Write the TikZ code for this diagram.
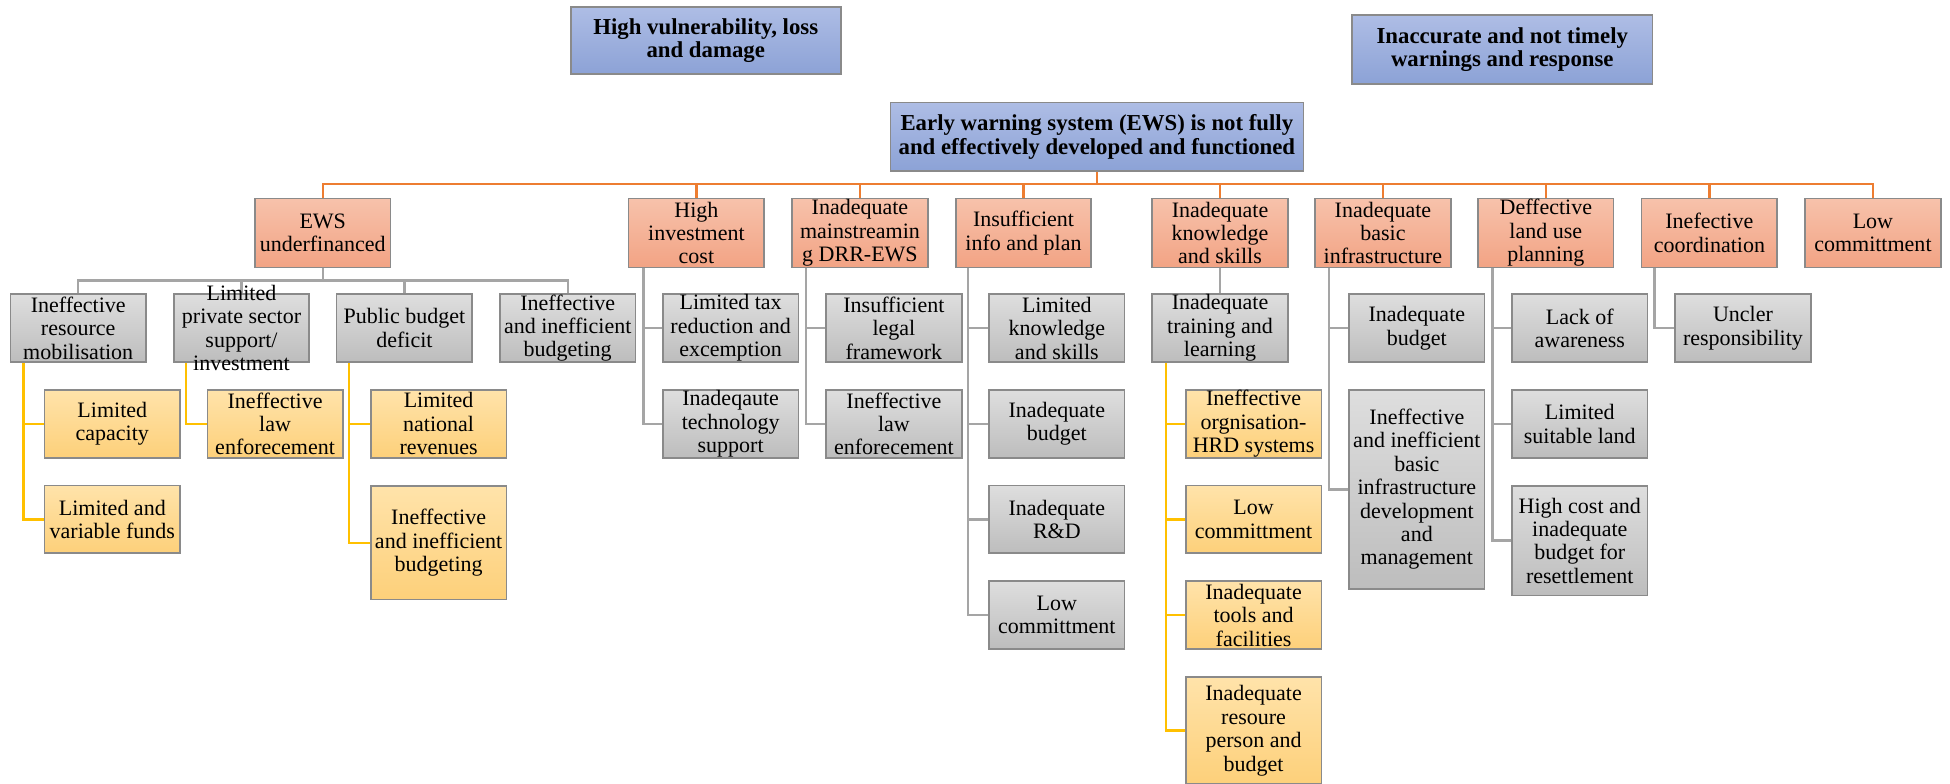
\documentclass[tikz,border=0pt]{standalone}
\usepackage{fontspec}
\setmainfont{Liberation Serif}
\usetikzlibrary{backgrounds}
\definecolor{blueT}{HTML}{AEBDE5}
\definecolor{blueB}{HTML}{8CA2D6}
\definecolor{orT}{HTML}{F7C2AB}
\definecolor{orB}{HTML}{F2A384}
\definecolor{grT}{HTML}{DEDEDE}
\definecolor{grB}{HTML}{BDBDBD}
\definecolor{yeT}{HTML}{FFE3AA}
\definecolor{yeB}{HTML}{FDD07A}
\definecolor{boxedge}{HTML}{8A8A8A}
\definecolor{lineO}{HTML}{ED7D31}
\definecolor{lineG}{HTML}{A5A5A5}
\definecolor{lineY}{HTML}{FFC000}
\tikzset{
  bw/.style={minimum width=#1*0.6218pt},
  bh/.style={minimum height=#1*0.6218pt},
  txt/.style={inner sep=0pt, align=center, font=\fontsize{11}{11.7}\selectfont},
  box/.style={txt, draw=boxedge, line width=0.8pt, bw=109, bh=54.5},
  bluebox/.style={box, top color=blueT, bottom color=blueB, font=\fontsize{11.4}{11.7}\selectfont\bfseries},
  obox/.style={box, top color=orT, bottom color=orB, bh=55.5},
  gbox/.style={box, top color=grT, bottom color=grB},
  ybox/.style={box, top color=yeT, bottom color=yeB},
  oline/.style={draw=lineO, line width=1.2pt},
  gline/.style={draw=lineG, line width=1.2pt},
  yline/.style={draw=lineY, line width=1.2pt}
}
\begin{document}
\begin{tikzpicture}[x=0.6218pt, y=-0.6218pt]
\useasboundingbox (0,0) rectangle (1568,630);

% top level problem statements
\node[bluebox, bw=217, bh=54]     (hv)  at (567.5,32.5) {High vulnerability, loss\\and damage};
\node[bluebox, bw=241.5, bh=55.5] (ia)  at (1208,39.8) {Inaccurate and not timely\\warnings and response};
\node[bluebox, bw=332, bh=55]     (ews) at (882,110) {Early warning system (EWS) is not fully\\and effectively developed and functioned};

% first level causes
\node[obox] (eu)  at (259.5,187.3) {EWS\\underfinanced};
\node[obox] (hic) at (560,187.3)   {High\\investment\\cost};
\node[obox] (idm) at (691.5,187.3) {Inadequate\\mainstreamin\\g DRR-EWS};
\node[obox] (iip) at (823,187.3)   {Insufficient\\info and plan};
\node[obox] (iks) at (981,187.3)   {Inadequate\\knowledge\\and skills};
\node[obox] (ibi) at (1112,187.3)  {Inadequate\\basic\\infrastructure};
\node[obox] (dlp) at (1243,187.3)  {Deffective\\land use\\planning};
\node[obox] (ico) at (1374.5,187.3) {Inefective\\coordination};
\node[obox] (lco) at (1506,187.3)  {Low\\committment};

% financing branch
\node[gbox] (irm) at (62.9,263.8)  {Ineffective\\resource\\mobilisation};
\node[gbox] (lps) at (194.2,263.8) {};
\node[txt]  (lpst) at (lps.center) {Limited\\private sector\\support/\\investment};
\node[gbox] (pbd) at (325.2,263.8) {Public budget\\deficit};
\node[gbox] (iib) at (456.5,263.8) {Ineffective\\and inefficient\\budgeting};
\node[ybox] (lcap) at (90.3,340.8) {Limited\\capacity};
\node[ybox] (lvf)  at (90.3,417.6) {Limited and\\variable funds};
\node[ybox] (ile)  at (221.2,340.8) {Ineffective\\law\\enforecement};
\node[ybox] (lnr)  at (352.7,340.8) {Limited\\national\\revenues};
\node[ybox, bh=91] (iib2) at (352.7,436.5) {Ineffective\\and inefficient\\budgeting};

% investment and mainstreaming branches
\node[gbox] (ltr)  at (587.5,263.8) {Limited tax\\reduction and\\excemption};
\node[gbox] (its)  at (587.5,340.8) {Inadeqaute\\technology\\support};
\node[gbox] (ilf)  at (718.8,263.8) {Insufficient\\legal\\framework};
\node[gbox] (ile2) at (718.8,340.8) {Ineffective\\law\\enforecement};

% information branch
\node[gbox] (lks) at (849.8,263.8) {Limited\\knowledge\\and skills};
\node[gbox] (ib)  at (849.8,340.8) {Inadequate\\budget};
\node[gbox] (ird) at (849.8,417.6) {Inadequate\\R\&D};
\node[gbox] (lc)  at (849.8,494.6) {Low\\committment};

% knowledge branch
\node[gbox] (itl) at (981,263.8)   {Inadequate\\training and\\learning};
\node[ybox] (ioh) at (1008,340.8)  {Ineffective\\orgnisation-\\HRD systems};
\node[ybox] (lc2) at (1008,417.6)  {Low\\committment};
\node[ybox] (itf) at (1008,494.6)  {Inadequate\\tools and\\facilities};
\node[ybox, bh=86] (irp) at (1008,587.5) {Inadequate\\resoure\\person and\\budget};

% infrastructure branch
\node[gbox] (ib2) at (1139.3,263.8) {Inadequate\\budget};
\node[gbox, bh=160] (iibi) at (1139.3,393.5) {Ineffective\\and inefficient\\basic\\infrastructure\\development\\and\\management};

% land use branch
\node[gbox] (loa) at (1270.3,263.8) {Lack of\\awareness};
\node[gbox] (lsl) at (1270.3,340.8) {Limited\\suitable land};
\node[gbox, bh=88] (hcb) at (1270.3,434.7) {High cost and\\inadequate\\budget for\\resettlement};

% coordination branch
\node[gbox] (ure) at (1401.5,263.8) {Uncler\\responsibility};

% connectors
\begin{scope}[on background layer]
  \foreach \n in {eu,hic,idm,iip,iks,ibi,dlp,ico,lco}
    \draw[oline] (ews.south) -- ++(0,10) -| (\n.north);
  \foreach \n in {irm,lps,pbd,iib}
    \draw[gline] (eu.south) -- ++(0,10) -| (\n.north);
  \foreach \n in {lcap,lvf}
    \draw[yline] (irm.south west) ++(11,0) |- (\n.west);
  \draw[yline] (lps.south west) ++(10.7,0) |- (ile.west);
  \foreach \n in {lnr,iib2}
    \draw[yline] (pbd.south west) ++(10.7,0) |- (\n.west);
  \foreach \n in {ltr,its}
    \draw[gline] (hic.south west) ++(12.5,0) |- (\n.west);
  \foreach \n in {ilf,ile2}
    \draw[gline] (idm.south west) ++(11.5,0) |- (\n.west);
  \foreach \n in {lks,ib,ird,lc}
    \draw[gline] (iip.south west) ++(10.4,0) |- (\n.west);
  \draw[gline] (iks) -- (itl);
  \foreach \n in {ioh,lc2,itf,irp}
    \draw[yline] (itl.south west) ++(11.6,0) |- (\n.west);
  \foreach \n in {ib2,iibi}
    \draw[gline] (ibi.south west) ++(12,0) |- (\n.west);
  \foreach \n in {loa,lsl,hcb}
    \draw[gline] (dlp.south west) ++(12.3,0) |- (\n.west);
  \draw[gline] (ico.south west) ++(11,0) |- (ure.west);
\end{scope}
\end{tikzpicture}
\end{document}
